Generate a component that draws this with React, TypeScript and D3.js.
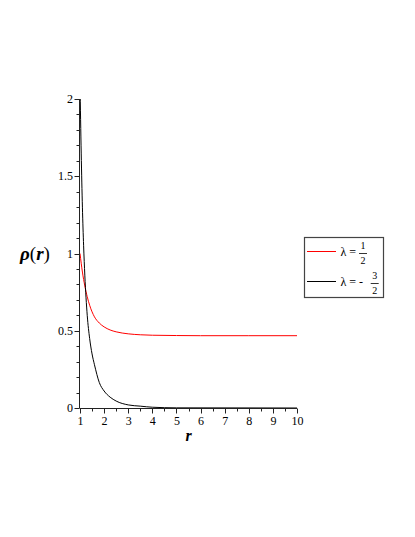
import React from "react";
import * as d3 from "d3";

// values
const redR = [1, 1.1, 1.2, 1.3, 1.4, 1.6, 1.8, 2, 2.25, 2.5, 3, 3.5, 4, 5, 6, 8, 10];
const redRho = [1.0, 0.88, 0.79, 0.72, 0.665, 0.59, 0.55, 0.525, 0.505, 0.493, 0.48, 0.474, 0.471, 0.469, 0.468, 0.468, 0.468];

const blackR = [1, 1.05, 1.1, 1.15, 1.2, 1.3, 1.4, 1.5, 1.6, 1.8, 2, 2.25, 2.5, 3, 3.5, 4, 5, 10];
const blackRho = [2.1, 1.65, 1.3, 1.05, 0.86, 0.6, 0.45, 0.35, 0.28, 0.165, 0.11, 0.07, 0.045, 0.02, 0.012, 0.005, 0.001, 0];

const xMajor = [1, 2, 3, 4, 5, 6, 7, 8, 9, 10];
const xMinor = [1.5, 2.5, 3.5, 4.5, 5.5, 6.5, 7.5, 8.5, 9.5];
const yMajor = [0, 0.5, 1, 1.5, 2];
const yMinorStep = 0.1;

const legendItems = [
  { color: "#ff0000", sign: "", num: "1", den: "2" },
  { color: "#000000", sign: "-", num: "3", den: "2" },
];

const W = 415;
const H = 537;
const FONT = "Liberation Serif";

const x = d3.scaleLinear().domain([1, 10]).range([80, 297]);
const y = d3.scaleLinear().domain([0, 2]).range([408, 99]);

const line = d3
  .line<[number, number]>()
  .x((d) => x(d[0]))
  .y((d) => y(d[1]))
  .curve(d3.curveMonotoneX);

const px = (v: number) => Math.round(v) + 0.5;

const App = () => {
  const yMinor = d3
    .range(0, 2.0001, yMinorStep)
    .filter((v) => !yMajor.some((m) => Math.abs(m - v) < 1e-6));
  const x0 = x(1) - 0.5;
  const y0 = y(0) + 0.5;

  return (
    <svg
      width={W}
      height={H}
      fontFamily={FONT}
      style={{ position: "absolute", left: 0, top: 0, background: "#fff" }}
    >
      <defs>
        <clipPath id="plotclip">
          <rect x={79} y={99} width={220} height={310} />
        </clipPath>
      </defs>

      <g clipPath="url(#plotclip)" fill="none" strokeWidth={1}>
        <path d={line(redR.map((r, i) => [r, redRho[i]] as [number, number]))!} stroke="#ff0000" />
        <path d={line(blackR.map((r, i) => [r, blackRho[i]] as [number, number]))!} stroke="#000" />
      </g>

      {/* axes */}
      <g stroke="#222" strokeWidth={1}>
        <line x1={x0} x2={x0} y1={y(0)} y2={y(2)} />
        <line x1={x0} x2={x(10)} y1={y0} y2={y0} />
        {yMinor.map((v) => (
          <line key={"ym" + v} x1={x0 - 3} x2={x0} y1={px(y(v))} y2={px(y(v))} />
        ))}
        {yMajor.map((v) => (
          <line key={"yM" + v} x1={x0 - 5} x2={x0} y1={px(y(v))} y2={px(y(v))} />
        ))}
        {xMinor.map((v) => (
          <line key={"xm" + v} x1={px(x(v))} x2={px(x(v))} y1={y0} y2={y0 + 3} />
        ))}
        {xMajor.map((v) => (
          <line key={"xM" + v} x1={px(x(v))} x2={px(x(v))} y1={y0} y2={y0 + 5} />
        ))}
      </g>

      {yMajor.map((v) => (
        <text key={"yl" + v} x={x0 - 6.5} y={y(v) + 4} textAnchor="end" fontSize={12}>
          {String(v)}
        </text>
      ))}
      {xMajor.map((v) => (
        <text key={"xl" + v} x={x(v) + 0.5} y={y(0) + 17} textAnchor="middle" fontSize={12}>
          {String(v)}
        </text>
      ))}

      <text
        x={(x(1) + x(10)) / 2}
        y={441}
        textAnchor="middle"
        fontSize={16}
        fontWeight="bold"
        fontStyle="italic"
      >
        r
      </text>

      <text x={35} y={260} textAnchor="middle" fontSize={19}>
        <tspan fontWeight="bold" fontStyle="italic">ρ</tspan>
        <tspan>(</tspan>
        <tspan fontWeight="bold" fontStyle="italic">r</tspan>
        <tspan>)</tspan>
      </text>

      {/* legend */}
      <rect x={304.5} y={237.5} width={79} height={60} fill="#fff" stroke="#444" strokeWidth={1.2} />
      {legendItems.map((it, i) => {
        const ly = 251.5 + i * 30;
        const fx = it.sign ? 374.7 : 363;
        return (
          <g key={"lg" + i}>
            <line x1={307} x2={336} y1={ly} y2={ly} stroke={it.color} strokeWidth={1} />
            <text x={340.5} y={ly + 4} fontSize={12}>
              {it.sign ? "λ = -" : "λ ="}
            </text>
            <line x1={fx - 4} x2={fx + 4} y1={ly + 2} y2={ly + 2} stroke="#000" strokeWidth={0.8} />
            <text x={fx} y={ly - 3} textAnchor="middle" fontSize={10}>
              {it.num}
            </text>
            <text x={fx} y={ly + 12} textAnchor="middle" fontSize={10}>
              {it.den}
            </text>
          </g>
        );
      })}
    </svg>
  );
};

export default App;
